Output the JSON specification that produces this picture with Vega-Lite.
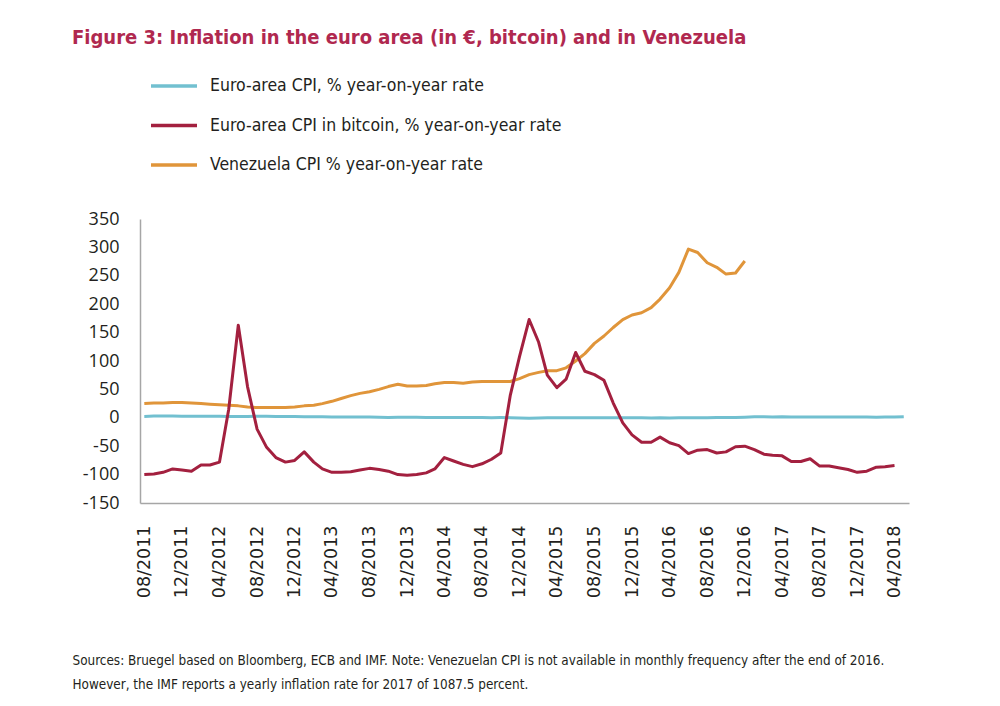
{
  "$schema": "https://vega.github.io/schema/vega-lite/v6.json",
  "width": 769,
  "height": 284,
  "autosize": {"type": "none"},
  "padding": {"left": 140, "top": 219, "right": 91, "bottom": 203},
  "background": "white",
  "title": {
    "text": "Figure 3: Inflation in the euro area (in €, bitcoin) and in Venezuela",
    "anchor": "start",
    "frame": "group",
    "dx": -68,
    "offset": 26,
    "font": "DejaVu Sans Condensed, DejaVu Sans, sans-serif",
    "fontSize": 20,
    "fontWeight": "bold",
    "color": "#B0284F"
  },
  "config": {
    "view": {"stroke": null},
    "axis": {"grid": false, "ticks": false, "domainColor": "#A6A6A6", "domainWidth": 1.5}
  },
  "data": {
    "values": [
      {"date": "2011-08-15", "eu": 2.5, "ve": 25, "btc": -100},
      {"date": "2011-09-15", "eu": 3.0, "ve": 26, "btc": -99},
      {"date": "2011-10-15", "eu": 3.0, "ve": 26, "btc": -96},
      {"date": "2011-11-15", "eu": 3.0, "ve": 27, "btc": -90},
      {"date": "2011-12-15", "eu": 2.7, "ve": 27, "btc": -92},
      {"date": "2012-01-15", "eu": 2.7, "ve": 26, "btc": -94},
      {"date": "2012-02-15", "eu": 2.7, "ve": 25, "btc": -83},
      {"date": "2012-03-15", "eu": 2.7, "ve": 24, "btc": -83},
      {"date": "2012-04-15", "eu": 2.6, "ve": 23, "btc": -78},
      {"date": "2012-05-15", "eu": 2.4, "ve": 22, "btc": 15},
      {"date": "2012-06-15", "eu": 2.4, "ve": 21, "btc": 163},
      {"date": "2012-07-15", "eu": 2.4, "ve": 19, "btc": 55},
      {"date": "2012-08-15", "eu": 2.6, "ve": 18, "btc": -20},
      {"date": "2012-09-15", "eu": 2.6, "ve": 18, "btc": -52},
      {"date": "2012-10-15", "eu": 2.5, "ve": 18, "btc": -70},
      {"date": "2012-11-15", "eu": 2.2, "ve": 18, "btc": -78},
      {"date": "2012-12-15", "eu": 2.2, "ve": 19, "btc": -75},
      {"date": "2013-01-15", "eu": 2.0, "ve": 21, "btc": -60},
      {"date": "2013-02-15", "eu": 1.8, "ve": 22, "btc": -78},
      {"date": "2013-03-15", "eu": 1.7, "ve": 25, "btc": -90},
      {"date": "2013-04-15", "eu": 1.2, "ve": 29, "btc": -96},
      {"date": "2013-05-15", "eu": 1.4, "ve": 34, "btc": -96},
      {"date": "2013-06-15", "eu": 1.6, "ve": 39, "btc": -95},
      {"date": "2013-07-15", "eu": 1.6, "ve": 43, "btc": -92},
      {"date": "2013-08-15", "eu": 1.3, "ve": 46, "btc": -89},
      {"date": "2013-09-15", "eu": 1.1, "ve": 50, "btc": -91},
      {"date": "2013-10-15", "eu": 0.7, "ve": 55, "btc": -94},
      {"date": "2013-11-15", "eu": 0.9, "ve": 59, "btc": -100},
      {"date": "2013-12-15", "eu": 0.8, "ve": 56, "btc": -101},
      {"date": "2014-01-15", "eu": 0.8, "ve": 56, "btc": -100},
      {"date": "2014-02-15", "eu": 0.7, "ve": 57, "btc": -97},
      {"date": "2014-03-15", "eu": 0.5, "ve": 60, "btc": -90},
      {"date": "2014-04-15", "eu": 0.7, "ve": 62, "btc": -70},
      {"date": "2014-05-15", "eu": 0.5, "ve": 62, "btc": -76},
      {"date": "2014-06-15", "eu": 0.5, "ve": 61, "btc": -82},
      {"date": "2014-07-15", "eu": 0.4, "ve": 63, "btc": -86},
      {"date": "2014-08-15", "eu": 0.4, "ve": 64, "btc": -81},
      {"date": "2014-09-15", "eu": 0.3, "ve": 64, "btc": -73},
      {"date": "2014-10-15", "eu": 0.4, "ve": 64, "btc": -62},
      {"date": "2014-11-15", "eu": 0.3, "ve": 64, "btc": 40},
      {"date": "2014-12-15", "eu": -0.2, "ve": 69, "btc": 108},
      {"date": "2015-01-15", "eu": -0.6, "ve": 76, "btc": 173},
      {"date": "2015-02-15", "eu": -0.3, "ve": 80, "btc": 133},
      {"date": "2015-03-15", "eu": -0.1, "ve": 83, "btc": 75},
      {"date": "2015-04-15", "eu": 0.0, "ve": 83, "btc": 53},
      {"date": "2015-05-15", "eu": 0.3, "ve": 88, "btc": 68},
      {"date": "2015-06-15", "eu": 0.2, "ve": 100, "btc": 115},
      {"date": "2015-07-15", "eu": 0.2, "ve": 113, "btc": 82},
      {"date": "2015-08-15", "eu": 0.1, "ve": 131, "btc": 76},
      {"date": "2015-09-15", "eu": -0.1, "ve": 144, "btc": 66},
      {"date": "2015-10-15", "eu": 0.1, "ve": 159, "btc": 26},
      {"date": "2015-11-15", "eu": 0.1, "ve": 173, "btc": -9},
      {"date": "2015-12-15", "eu": 0.2, "ve": 181, "btc": -30},
      {"date": "2016-01-15", "eu": 0.3, "ve": 185, "btc": -43},
      {"date": "2016-02-15", "eu": -0.2, "ve": 194, "btc": -43},
      {"date": "2016-03-15", "eu": 0.0, "ve": 209, "btc": -34},
      {"date": "2016-04-15", "eu": -0.2, "ve": 229, "btc": -44},
      {"date": "2016-05-15", "eu": -0.1, "ve": 256, "btc": -49},
      {"date": "2016-06-15", "eu": 0.1, "ve": 297, "btc": -63},
      {"date": "2016-07-15", "eu": 0.2, "ve": 291, "btc": -57},
      {"date": "2016-08-15", "eu": 0.2, "ve": 273, "btc": -56},
      {"date": "2016-09-15", "eu": 0.4, "ve": 265, "btc": -62},
      {"date": "2016-10-15", "eu": 0.5, "ve": 253, "btc": -60},
      {"date": "2016-11-15", "eu": 0.6, "ve": 255, "btc": -51},
      {"date": "2016-12-15", "eu": 1.1, "ve": 276, "btc": -50},
      {"date": "2017-01-15", "eu": 1.8, "btc": -56},
      {"date": "2017-02-15", "eu": 2.0, "btc": -64},
      {"date": "2017-03-15", "eu": 1.5, "btc": -66},
      {"date": "2017-04-15", "eu": 1.9, "btc": -67},
      {"date": "2017-05-15", "eu": 1.4, "btc": -77},
      {"date": "2017-06-15", "eu": 1.3, "btc": -77},
      {"date": "2017-07-15", "eu": 1.3, "btc": -72},
      {"date": "2017-08-15", "eu": 1.5, "btc": -85},
      {"date": "2017-09-15", "eu": 1.5, "btc": -85},
      {"date": "2017-10-15", "eu": 1.4, "btc": -88},
      {"date": "2017-11-15", "eu": 1.5, "btc": -91},
      {"date": "2017-12-15", "eu": 1.4, "btc": -96},
      {"date": "2018-01-15", "eu": 1.3, "btc": -94},
      {"date": "2018-02-15", "eu": 1.1, "btc": -87},
      {"date": "2018-03-15", "eu": 1.3, "btc": -86},
      {"date": "2018-04-15", "eu": 1.2, "btc": -84},
      {"date": "2018-05-15", "eu": 1.9}
    ]
  },
  "transform": [
    {"fold": ["eu", "ve", "btc"], "as": ["series", "value"]}
  ],
  "mark": {"type": "line", "strokeWidth": 3, "strokeJoin": "round"},
  "encoding": {
    "x": {
      "field": "date",
      "type": "temporal",
      "scale": {
        "type": "utc",
        "domain": [
          {"year": 2011, "month": 8, "date": 1, "utc": true},
          {"year": 2018, "month": 6, "date": 1, "utc": true}
        ]
      },
      "axis": {
        "values": [
          {"year": 2011, "month": 8, "date": 15, "utc": true},
          {"year": 2011, "month": 12, "date": 15, "utc": true},
          {"year": 2012, "month": 4, "date": 15, "utc": true},
          {"year": 2012, "month": 8, "date": 15, "utc": true},
          {"year": 2012, "month": 12, "date": 15, "utc": true},
          {"year": 2013, "month": 4, "date": 15, "utc": true},
          {"year": 2013, "month": 8, "date": 15, "utc": true},
          {"year": 2013, "month": 12, "date": 15, "utc": true},
          {"year": 2014, "month": 4, "date": 15, "utc": true},
          {"year": 2014, "month": 8, "date": 15, "utc": true},
          {"year": 2014, "month": 12, "date": 15, "utc": true},
          {"year": 2015, "month": 4, "date": 15, "utc": true},
          {"year": 2015, "month": 8, "date": 15, "utc": true},
          {"year": 2015, "month": 12, "date": 15, "utc": true},
          {"year": 2016, "month": 4, "date": 15, "utc": true},
          {"year": 2016, "month": 8, "date": 15, "utc": true},
          {"year": 2016, "month": 12, "date": 15, "utc": true},
          {"year": 2017, "month": 4, "date": 15, "utc": true},
          {"year": 2017, "month": 8, "date": 15, "utc": true},
          {"year": 2017, "month": 12, "date": 15, "utc": true},
          {"year": 2018, "month": 4, "date": 15, "utc": true}
        ],
        "format": "%m/%Y",
        "labelAngle": -90,
        "labelAlign": "right",
        "labelBaseline": "middle",
        "labelPadding": 22,
        "labelFont": "DejaVu Sans",
        "labelFontSize": 17.5,
        "labelColor": "#231F20",
        "labelOverlap": false,
        "labelFlush": false,
        "title": [
          "Sources: Bruegel based on Bloomberg, ECB and IMF. Note: Venezuelan CPI is not available in monthly frequency after the end of 2016.",
          "However, the IMF reports a yearly inflation rate for 2017 of 1087.5 percent."
        ],
        "titleX": -68,
        "titleY": 150,
        "titleAlign": "left",
        "titleAnchor": "start",
        "titleBaseline": "top",
        "titleFont": "DejaVu Sans Condensed, DejaVu Sans, sans-serif",
        "titleFontSize": 13.4,
        "titleFontWeight": "normal",
        "titleColor": "#231F20",
        "titleLineHeight": 24
      }
    },
    "y": {
      "field": "value",
      "type": "quantitative",
      "scale": {"domain": [-150, 350], "nice": false, "zero": false},
      "axis": {
        "values": [-150, -100, -50, 0, 50, 100, 150, 200, 250, 300, 350],
        "labelExpr": "'' + datum.value",
        "labelFont": "Open Sans",
        "labelFontSize": 18,
        "labelColor": "#231F20",
        "labelPadding": 21,
        "title": null
      }
    },
    "color": {
      "field": "series",
      "type": "nominal",
      "scale": {
        "domain": ["eu", "btc", "ve"],
        "range": ["#72C0D0", "#A3203F", "#E0953A"]
      },
      "legend": {
        "orient": "none",
        "legendX": 22,
        "legendY": -145,
        "title": null,
        "padding": 0,
        "symbolType": "M-2.3,0H2.3",
        "symbolSize": 400,
        "symbolStrokeWidth": 3.5,
        "rowPadding": 18.5,
        "labelOffset": 24,
        "labelFont": "DejaVu Sans Condensed, DejaVu Sans, sans-serif",
        "labelFontSize": 17.5,
        "labelColor": "#231F20",
        "labelLimit": 500,
        "labelExpr": "datum.label == 'eu' ? 'Euro-area CPI, % year-on-year rate' : datum.label == 'btc' ? 'Euro-area CPI in bitcoin, % year-on-year rate' : 'Venezuela CPI % year-on-year rate'"
      }
    }
  }
}
